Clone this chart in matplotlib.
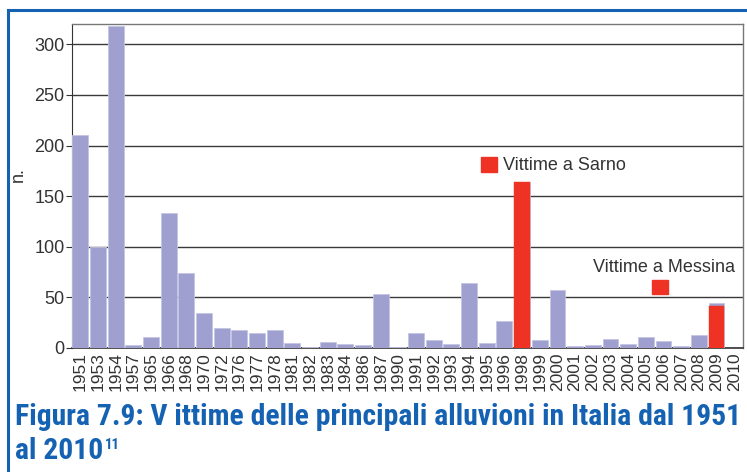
import matplotlib
matplotlib.use("Agg")
import matplotlib.pyplot as plt
from matplotlib.patches import Rectangle
from matplotlib.lines import Line2D
from matplotlib import font_manager

years = ["1951", "1953", "1954", "1957", "1965", "1966", "1968", "1970", "1972", "1976",
         "1977", "1978", "1981", "1982", "1983", "1984", "1986", "1987", "1990", "1991",
         "1992", "1993", "1994", "1995", "1996", "1998", "1999", "2000", "2001", "2002",
         "2003", "2004", "2005", "2006", "2007", "2008", "2009", "2010"]
victims = [210, 100, 318, 3, 11, 133, 74, 35, 20, 18,
           15, 18, 5, 1, 6, 4, 3, 53, 1, 15,
           8, 4, 64, 5, 27, 164, 8, 57, 2, 3,
           9, 4, 11, 7, 2, 13, 44, 0]
highlight_years = ["1998", "2009"]
highlight_values = [164, 41]
yticks = [0, 50, 100, 150, 200, 250, 300]

W, H = 747, 472
BLUE_BAR = "#9fa0cf"
RED = "#ee3224"
FRAME = "#1562b3"
TXT = "#333333"

plt.rcParams['font.family'] = ['Liberation Sans', 'DejaVu Sans']

fig = plt.figure(figsize=(W / 100, H / 100), dpi=100)

def fx(px):
    return px / W

def fy(py):
    return 1 - py / H

ax = fig.add_axes([fx(71.5), fy(348), fx(743) - fx(71.5), fy(24) - fy(348)])

x = list(range(len(years)))
ax.bar(x, victims, width=0.9, color=BLUE_BAR, edgecolor="#c4c5e3", linewidth=0.6, zorder=3)
hx = [years.index(y) for y in highlight_years]
ax.bar(hx, highlight_values, width=0.9, color=RED, edgecolor=RED, linewidth=0.3, zorder=4)

ax.set_xlim(-0.5, len(years) - 0.5)
ax.set_ylim(0, 320)
ax.set_yticks(yticks)
ax.set_yticklabels([str(t) for t in yticks], fontsize=13, color=TXT)
ax.set_xticks(x)
ax.set_xticklabels(years, rotation=90, fontsize=12.5, color=TXT)
ax.tick_params(axis='x', length=0, pad=3)
ax.tick_params(axis='y', length=4, width=0.8, color="#333333", pad=1)
ax.yaxis.grid(True, color="#3a3a3a", linewidth=1.0, zorder=1)
ax.set_axisbelow(True)
for s in ["top", "right"]:
    ax.spines[s].set_color("#777777")
    ax.spines[s].set_linewidth(1.0)
ax.spines["left"].set_color("#333333")
ax.spines["bottom"].set_color("#333333")
ax.spines["bottom"].set_linewidth(1.2)

fig.text(fx(18), fy(175), "n.", rotation=90, fontsize=13, color=TXT, ha="center", va="center")

# annotations
fig.add_artist(Rectangle((fx(481), fy(172)), fx(16), fy(157) - fy(172), color=RED, transform=fig.transFigure))
fig.text(fx(503), fy(165), "Vittime a Sarno", fontsize=13, color=TXT, ha="left", va="center")
fig.add_artist(Rectangle((fx(652), fy(294)), fx(16), fy(280) - fy(294), color=RED, transform=fig.transFigure))
fig.text(fx(593), fy(268), "Vittime a Messina", fontsize=13, color=TXT, ha="left", va="center")

# frame
fig.add_artist(Line2D([fx(8), 1.0], [fy(10), fy(10)], color=FRAME, linewidth=2.2, transform=fig.transFigure))
fig.add_artist(Line2D([fx(8), fx(8)], [fy(10), 0.0], color=FRAME, linewidth=2.2, transform=fig.transFigure))

installed = {f.name for f in font_manager.fontManager.ttflist}
title_font = [f for f in ['Roboto Condensed', 'Liberation Sans Narrow', 'Open Sans Condensed',
                          'Noto Sans Condensed', 'Lato', 'Roboto'] if f in installed] + ['DejaVu Sans']

t1 = fig.text(fx(15), fy(425), "Figura 7.9: V ittime delle principali alluvioni in Italia dal 1951",
              fontsize=18, fontweight="bold", color=FRAME, family=title_font, ha="left", va="baseline")
renderer = fig.canvas.get_renderer()
w = t1.get_window_extent(renderer).width
size = min(22.0, 18 * 723 / w)
t1.set_fontsize(size)
t2 = fig.text(fx(15), fy(459), "al 2010", fontsize=size, fontweight="bold", color=FRAME,
              family=title_font, ha="left", va="baseline")
w2 = t2.get_window_extent(renderer).width
fig.text(fx(15 + w2 + 2), fy(449), "11", fontsize=size * 0.5, fontweight="bold", color=FRAME,
         family=title_font, ha="left", va="baseline")

fig.savefig("out.png", dpi=100, facecolor="white")
